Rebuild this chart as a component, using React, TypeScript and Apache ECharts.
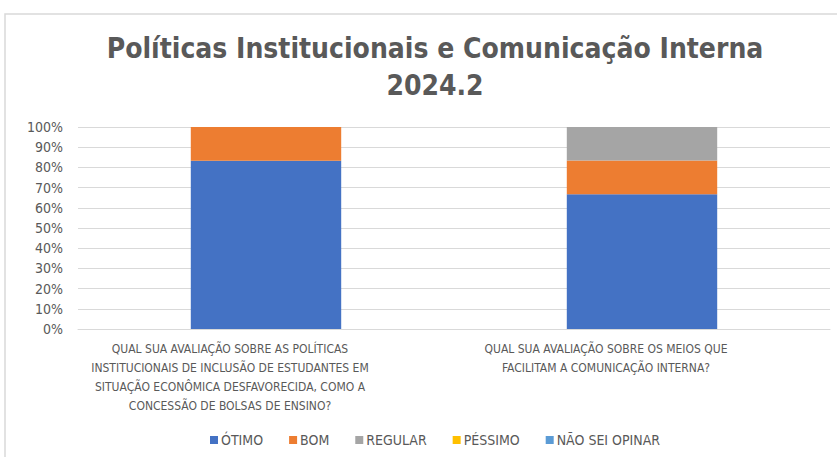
import React, { useEffect, useRef } from "react";
import * as echarts from "echarts";

const titleText = "Políticas Institucionais e Comunicação Interna\n2024.2";
const categories = [
  "QUAL SUA AVALIAÇÃO SOBRE AS POLÍTICAS\nINSTITUCIONAIS DE INCLUSÃO DE ESTUDANTES EM\nSITUAÇÃO ECONÔMICA DESFAVORECIDA, COMO A\nCONCESSÃO DE BOLSAS DE ENSINO?",
  "QUAL SUA AVALIAÇÃO SOBRE OS MEIOS QUE\nFACILITAM A COMUNICAÇÃO INTERNA?",
];
const seriesNames = ["ÓTIMO", "BOM", "REGULAR", "PÉSSIMO", "NÃO SEI OPINAR"];
const otimo = [83.3, 66.7];
const bom = [16.7, 16.7];
const regular = [0, 16.6];
const pessimo = [0, 0];
const naoSei = [0, 0];
const colors = ["#4472C4", "#ED7D31", "#A5A5A5", "#FFC000", "#5B9BD5"];

export default function App() {
  const ref = useRef<HTMLDivElement>(null);
  useEffect(() => {
    if (!ref.current) return;
    const chart = echarts.init(ref.current, null, { renderer: "svg" });
    const values = [otimo, bom, regular, pessimo, naoSei];
    const font = "'DejaVu Sans Condensed', 'Liberation Sans Narrow', sans-serif";
    chart.setOption({
      animation: false,
      backgroundColor: "#fff",
      title: {
        text: titleText,
        left: 430,
        textAlign: "center",
        top: 25,
        textStyle: {
          fontFamily: font,
          fontSize: 28,
          fontWeight: "bold",
          color: "#595959",
          lineHeight: 37,
        },
      },
      graphic: [
        {
          type: "rect",
          shape: { x: 5, y: 14, width: 850, height: 470 },
          style: { fill: "none", stroke: "#d9d9d9", lineWidth: 1.5 },
          silent: true,
        },
      ],
      legend: {
        bottom: 5,
        left: 205,
        itemWidth: 8,
        itemHeight: 8,
        itemGap: 26,
        icon: "rect",
        textStyle: { fontFamily: font, fontSize: 14, color: "#595959", padding: [0, 0, 0, -2] },
        data: seriesNames,
      },
      grid: { left: 78, right: 7, top: 127, bottom: 128 },
      xAxis: {
        type: "category",
        data: categories,
        axisTick: { show: false },
        axisLine: { lineStyle: { color: "#d9d9d9" } },
        axisLabel: {
          fontFamily: font,
          fontSize: 12,
          color: "#595959",
          lineHeight: 19,
          margin: 10,
          interval: 0,
          padding: [0, 72, 0, 0],
        },
      },
      yAxis: {
        type: "value",
        min: 0,
        max: 100,
        interval: 10,
        axisLabel: {
          formatter: "{value}%",
          fontFamily: font,
          fontSize: 14,
          color: "#595959",
          margin: 15,
        },
        splitLine: { lineStyle: { color: "#d9d9d9" } },
      },
      series: seriesNames.map((name, i) => ({
        name,
        type: "bar",
        stack: "total",
        barWidth: "40%",
        data: values[i],
        itemStyle: { color: colors[i] },
      })),
    });
    return () => chart.dispose();
  }, []);
  return (
    <div
      ref={ref}
      style={{ position: "fixed", left: 0, top: 0, width: 837, height: 457 }}
    />
  );
}
